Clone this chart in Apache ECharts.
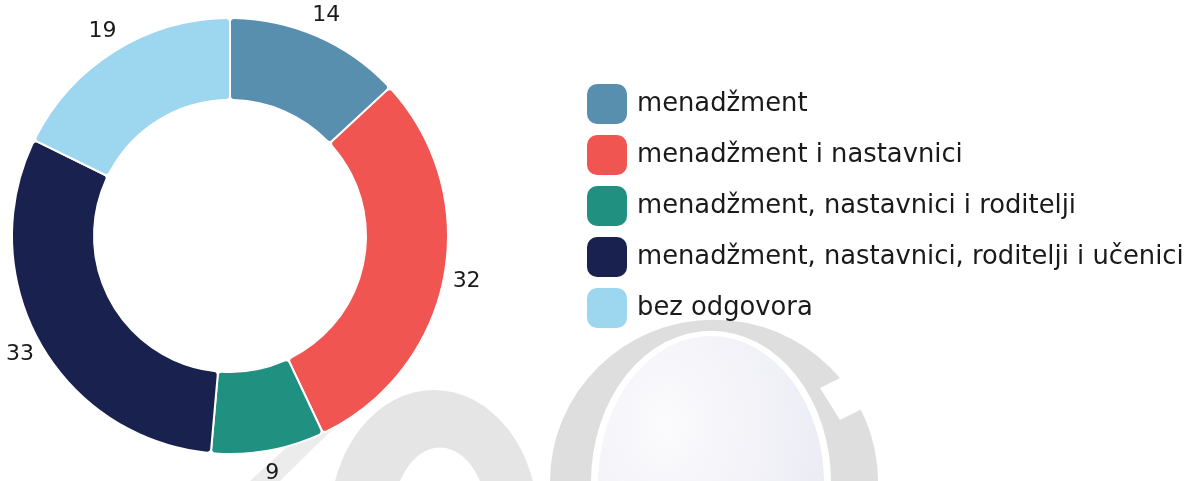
<!DOCTYPE html>
<html>
<head>
<meta charset="utf-8">
<script src="https://cdn.jsdelivr.net/npm/echarts@6/dist/echarts.min.js"></script>
<style>
  html, body { margin: 0; padding: 0; background: #fff; }
</style>
</head>
<body>
<div id="odgovor" style="width: 1193px; height: 481px"></div>
<script>
// kategorije i vrijednosti
var categories = ['menadžment', 'menadžment i nastavnici', 'menadžment, nastavnici i roditelji', 'menadžment, nastavnici, roditelji i učenici', 'bez odgovora']
var values = [14, 32, 9, 33, 19]
var colors = ['#588fae', '#f05552', '#209181', '#19214f', '#9dd6ef']

var chart = echarts.init(document.getElementById('odgovor'))
chart.setOption({
  color: colors,
  textStyle: { fontFamily: 'DejaVu Sans' },
  graphic: [
    // blijedi vodeni žig u pozadini
    {
      type: 'group', z: -10, silent: true,
      children: [
        { type: 'circle', shape: { cx: 0, cy: 0, r: 104 }, x: 434, y: 522, scaleY: 1.27, style: { fill: '#e5e5e5' } },
        { type: 'circle', shape: { cx: 0, cy: 0, r: 48 }, x: 440, y: 522, scaleY: 1.55, style: { fill: '#ffffff' } },
        { type: 'polygon', shape: { points: [[250, 481], [280, 481], [352, 410], [336, 402]] }, style: { fill: '#ececec' } },
        { type: 'circle', shape: { cx: 0, cy: 0, r: 164 }, x: 714, y: 482, scaleY: 0.99, style: { fill: '#dedede' } },
        { type: 'circle', shape: { cx: 0, cy: 0, r: 120 }, x: 711, y: 482, scaleY: 1.26, style: { fill: '#ffffff' } },
        {
          type: 'circle', shape: { cx: 0, cy: 0, r: 113 }, x: 711, y: 484, scaleY: 1.31,
          style: {
            fill: { type: 'radial', x: 0.3, y: 0.3, r: 0.8, colorStops: [{ offset: 0, color: '#fbfbfd' }, { offset: 1, color: '#eaeaf4' }] }
          }
        },
        { type: 'polygon', shape: { points: [[820, 388], [880, 358], [880, 400], [840, 420]] }, style: { fill: '#ffffff' } }
      ]
    }
  ],
  legend: {
    orient: 'vertical',
    left: 582,
    top: 79,
    itemWidth: 40,
    itemHeight: 40,
    itemGap: 11,
    icon: 'roundRect',
    itemStyle: { borderWidth: 0 },
    textStyle: { fontSize: 25.8, color: '#1a1a1a', padding: [0, 0, 0, 5] },
    data: categories
  },
  series: [
    {
      type: 'pie',
      center: [230, 236],
      radius: [136, 218],
      startAngle: 90,
      itemStyle: { borderColor: '#fff', borderWidth: 2, borderRadius: 4 },
      label: { show: false },
      data: categories.map(function (c, i) { return { name: c, value: values[i] } })
    },
    {
      // prozirni prsten samo za oznake vrijednosti izvan kruga
      type: 'pie',
      center: [230, 236],
      radius: [210, 266],
      startAngle: 90,
      silent: true,
      itemStyle: { color: 'transparent' },
      label: { show: true, position: 'inside', formatter: '{c}', fontSize: 22, color: '#1a1a1a' },
      labelLine: { show: false },
      data: categories.map(function (c, i) { return { name: c, value: values[i] } })
    }
  ]
})
</script>
</body>
</html>
